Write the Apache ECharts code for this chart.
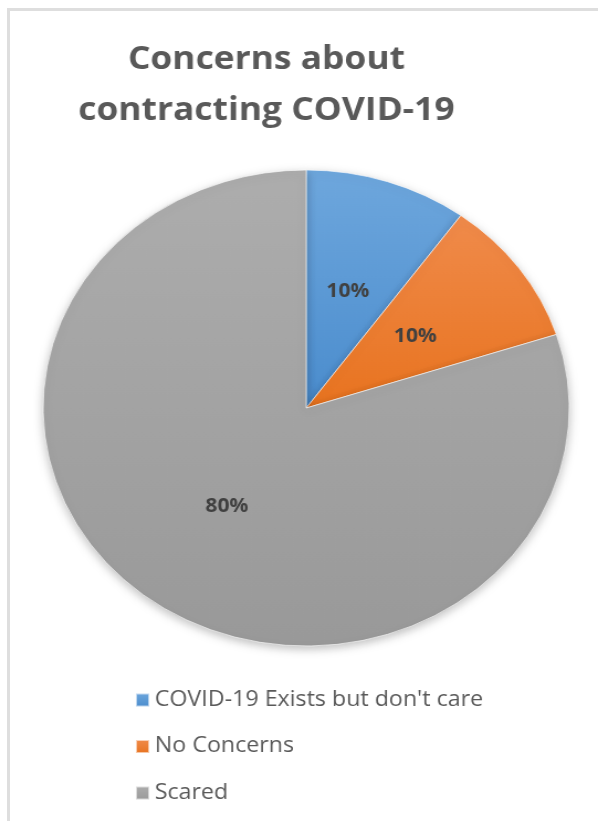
<!DOCTYPE html>
<html lang="en">
<head>
<meta charset="utf-8">
<title>Concerns about contracting COVID-19</title>
<script src="https://cdn.jsdelivr.net/npm/echarts@6/dist/echarts.min.js"></script>
<style>
    html, body { margin: 0; padding: 0; background: #fff; }
    #frame {
        position: absolute; left: 7px; top: 8px; width: 600px; height: 830px;
        border-left: 3px solid #dedede; border-top: 3px solid #dedede;
    }
    /* the reference picture is stretched sideways, so the chart is too */
    #main {
        position: absolute; left: 0; top: 0; width: 541px; height: 821px;
        transform: scaleX(1.1054); transform-origin: 0 0;
    }
</style>
</head>
<body>
<div id="frame"></div>
<div id="main"></div>
<script type="text/javascript">
    // data
    var categories = ['COVID-19 Exists but don\'t care', 'No Concerns', 'Scared'];
    var shares = [10, 10, 80];
    var colorsTop = ['#6ea7dd', '#f08b4b', '#adadad'];
    var colorsBottom = ['#4a8ccd', '#e8731f', '#999999'];

    var myChart = echarts.init(document.getElementById('main'));

    var pieData = categories.map(function (name, i) {
        return {
            name: name,
            value: shares[i],
            itemStyle: {
                color: new echarts.graphic.LinearGradient(0, 0, 0, 1, [
                    { offset: 0, color: colorsTop[i] },
                    { offset: 1, color: colorsBottom[i] }
                ])
            }
        };
    });

    var option = {
        animation: false,
        color: ['#5b9bd5', '#ed7d31', '#a5a5a5'],
        title: {
            text: 'Concerns about\ncontracting COVID-19',
            left: 236,
            textAlign: 'center',
            top: 29,
            textStyle: {
                fontFamily: 'Open Sans, sans-serif',
                fontWeight: 'bold',
                fontSize: 32,
                lineHeight: 51,
                color: '#595959'
            }
        },
        legend: {
            orient: 'vertical',
            left: 117,
            top: 684,
            itemWidth: 12,
            itemHeight: 13,
            itemGap: 24.5,
            icon: 'rect',
            data: categories,
            textStyle: {
                fontFamily: 'Open Sans, sans-serif',
                fontSize: 21,
                lineHeight: 22,
                color: '#595959'
            }
        },
        series: [{
            name: 'Concerns',
            type: 'pie',
            center: [277, 408],
            radius: 238,
            startAngle: 90,
            clockwise: true,
            data: pieData,
            label: {
                position: 'inside',
                formatter: '{c}%',
                fontFamily: 'Open Sans, sans-serif',
                fontWeight: 'bold',
                fontSize: 19,
                color: '#404040'
            },
            labelLine: { show: false },
            itemStyle: {
                borderColor: 'rgba(255,255,255,0.6)',
                borderWidth: 1,
                shadowBlur: 10,
                shadowOffsetY: 3,
                shadowColor: 'rgba(0,0,0,0.25)'
            },
            emphasis: { disabled: true }
        }]
    };

    myChart.setOption(option);
</script>
</body>
</html>
